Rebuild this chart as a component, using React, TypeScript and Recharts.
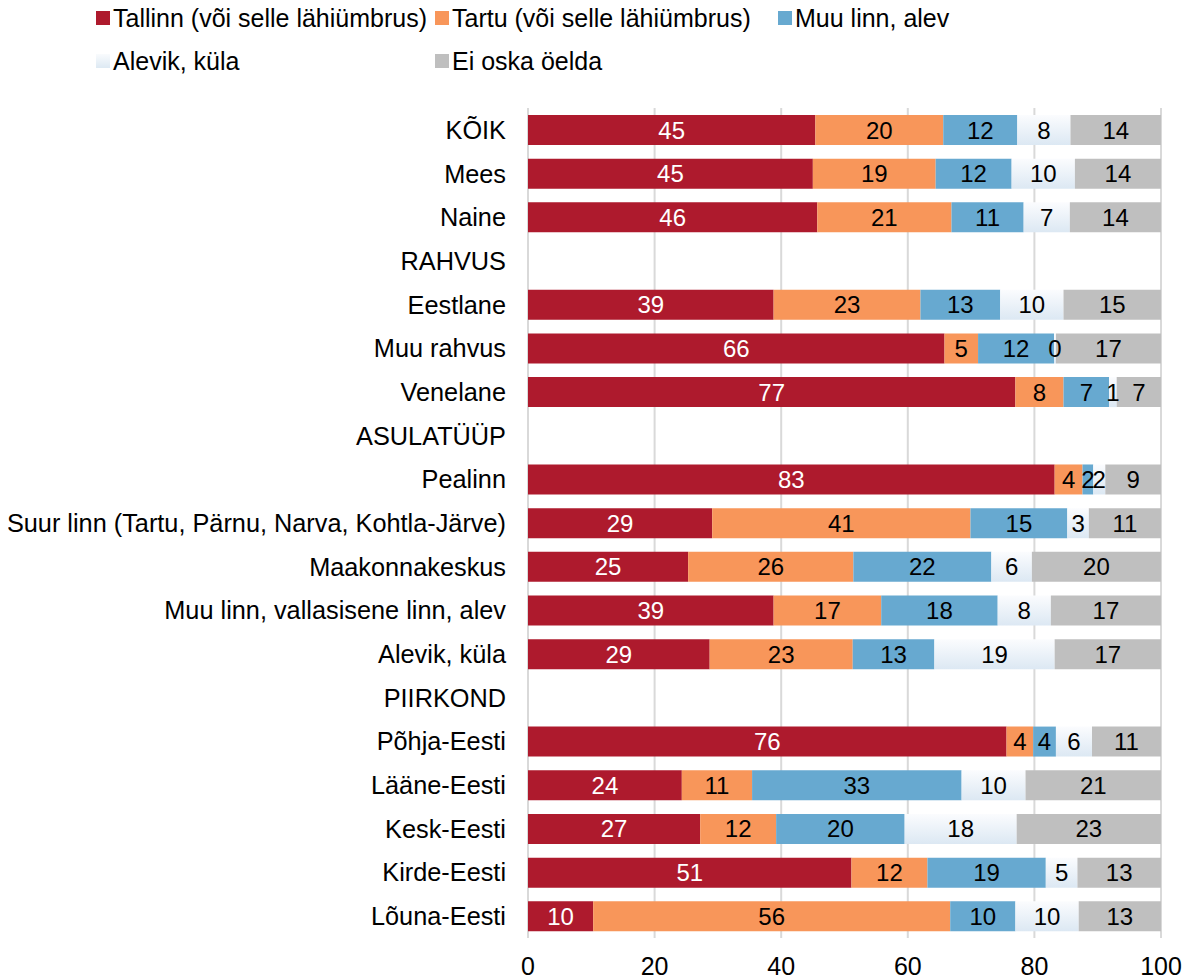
import React from 'react';
import { BarChart, Bar, XAxis, YAxis, CartesianGrid, LabelList } from 'recharts';

const categories = [
  'KÕIK', 'Mees', 'Naine', 'RAHVUS', 'Eestlane', 'Muu rahvus', 'Venelane',
  'ASULATÜÜP', 'Pealinn', 'Suur linn (Tartu, Pärnu, Narva, Kohtla-Järve)',
  'Maakonnakeskus', 'Muu linn, vallasisene linn, alev', 'Alevik, küla',
  'PIIRKOND', 'Põhja-Eesti', 'Lääne-Eesti', 'Kesk-Eesti', 'Kirde-Eesti', 'Lõuna-Eesti',
];

const tallinn = [45.4, 45.0, 45.7, null, 38.8, 65.8, 77.0, null, 83.2, 29.1, 25.3, 38.8, 28.7, null, 75.6, 24.3, 27.2, 51.1, 10.3];
const tartu = [20.2, 19.4, 21.2, null, 23.2, 5.3, 7.6, null, 4.4, 40.8, 26.1, 17.0, 22.6, null, 4.2, 11.1, 12.0, 12.0, 56.4];
const muuLinn = [11.7, 12.0, 11.4, null, 12.6, 12.0, 7.2, null, 1.7, 15.3, 21.8, 18.4, 12.9, null, 3.6, 33.1, 20.3, 18.7, 10.3];
const alevik = [8.4, 10.0, 7.3, null, 10.0, 0.3, 1.2, null, 1.9, 3.4, 6.4, 8.4, 19.0, null, 5.7, 10.1, 17.7, 5.0, 10.0];
const eiOska = [14.3, 13.6, 14.4, null, 15.4, 16.6, 7.0, null, 8.8, 11.4, 20.4, 17.4, 16.8, null, 10.9, 21.4, 22.8, 13.2, 13.0];

const xTicks = [0, 20, 40, 60, 80, 100];

const series = [
  { key: 'tallinn', name: 'Tallinn (või selle lähiümbrus)', color: '#ae1a2d', fill: '#ae1a2d', label: '#ffffff' },
  { key: 'tartu', name: 'Tartu (või selle lähiümbrus)', color: '#f8965a', fill: '#f8965a', label: '#000000' },
  { key: 'muuLinn', name: 'Muu linn, alev', color: '#67a9d0', fill: '#67a9d0', label: '#000000' },
  { key: 'alevik', name: 'Alevik, küla', color: '#e4eef6', fill: 'url(#alevikGrad)', label: '#000000' },
  { key: 'eiOska', name: 'Ei oska öelda', color: '#bfbfbf', fill: '#bfbfbf', label: '#000000' },
];

const data = categories.map((name, i) => ({
  name,
  tallinn: tallinn[i],
  tartu: tartu[i],
  muuLinn: muuLinn[i],
  alevik: alevik[i],
  eiOska: eiOska[i],
}));

const font = '"Liberation Sans", Arial, sans-serif';

// legend spots, page coords of the swatch left edge / row centre
const legendPos = [
  { left: 96, top: 18 },
  { left: 435, top: 18 },
  { left: 778, top: 18 },
  { left: 96, top: 61 },
  { left: 435, top: 61 },
];

const fmt = (v: any) => (v == null ? '' : String(Math.round(Number(v))));

export default function App() {
  return (
    <div style={{ position: 'relative', width: 1181, height: 972, fontFamily: font }}>
      {series.map((s, i) => (
        <div
          key={s.key}
          style={{
            position: 'absolute',
            left: legendPos[i].left - 8,
            top: legendPos[i].top - 8 - 14,
            height: 28,
            display: 'flex',
            alignItems: 'center',
            fontSize: 25,
            color: '#000',
            whiteSpace: 'nowrap',
          }}
        >
          <span
            style={{
              display: 'inline-block',
              width: 14,
              height: 14,
              marginRight: 3,
              background: s.key === 'alevik' ? 'linear-gradient(#f9fbfd, #dde9f3)' : s.color,
            }}
          />
          <span>{s.name}</span>
        </div>
      ))}
      <BarChart
        width={1181}
        height={972}
        data={data}
        layout="vertical"
        margin={{ top: 100, right: 28, bottom: 1, left: 0 }}
        barSize={30}
        style={{ position: 'absolute', left: 0, top: 0 }}
      >
        <defs>
          <linearGradient id="alevikGrad" x1="0" y1="0" x2="0" y2="1">
            <stop offset="0%" stopColor="#fbfcfe" />
            <stop offset="100%" stopColor="#dce8f3" />
          </linearGradient>
        </defs>
        <CartesianGrid horizontal={false} stroke="#d9d9d9" strokeWidth={2} />
        <XAxis
          type="number"
          domain={[0, 100]}
          ticks={xTicks}
          axisLine={false}
          tickLine={false}
          tickSize={0}
          tickMargin={19}
          height={41}
          interval={0}
          tick={{ fill: '#000', fontSize: 25, fontFamily: font }}
        />
        <YAxis
          type="category"
          dataKey="name"
          width={520}
          axisLine={false}
          tickLine={false}
          tickSize={0}
          tickMargin={22}
          interval={0}
          tick={{ fill: '#000', fontSize: 25.3, fontFamily: font }}
        />
        {series.map((s) => (
          <Bar key={s.key} dataKey={s.key} name={s.name} stackId="a" fill={s.fill} isAnimationActive={false}>
            <LabelList
              dataKey={s.key}
              position="center"
              formatter={fmt}
              fill={s.label}
              style={{ fontSize: 24, fontFamily: font }}
            />
          </Bar>
        ))}
      </BarChart>
    </div>
  );
}
